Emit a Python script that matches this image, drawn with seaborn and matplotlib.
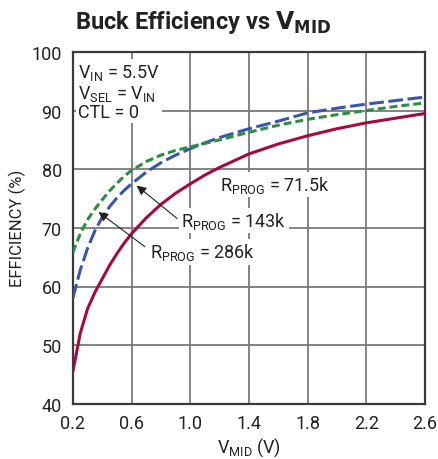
import matplotlib
matplotlib.use("Agg")
import matplotlib.pyplot as plt
import seaborn as sns
import pandas as pd

# ---- data ----
vmid = [0.2, 0.25, 0.3, 0.35, 0.4, 0.45, 0.5, 0.55, 0.6, 0.7, 0.8, 0.9, 1.0, 1.1, 1.2,
        1.4, 1.6, 1.8, 2.0, 2.2, 2.4, 2.6]
eff_71k5 = [45.5, 52.0, 56.2, 59.0, 61.3, 63.6, 65.6, 67.4, 69.0, 71.7, 74.0, 75.9, 77.5, 79.0, 80.3,
            82.6, 84.3, 85.7, 86.9, 87.9, 88.7, 89.5]
eff_143k = [58.0, 62.8, 66.5, 69.5, 71.8, 73.6, 75.1, 76.4, 77.5, 79.5, 81.1, 82.4, 83.5, 84.5, 85.4,
            86.9, 88.2, 89.6, 90.4, 91.1, 91.7, 92.3]
eff_286k = [65.8, 69.0, 71.4, 73.2, 74.8, 76.3, 77.6, 78.8, 79.8, 81.3, 82.4, 83.2, 83.8, 84.4, 85.0,
            86.3, 87.5, 88.5, 89.3, 90.0, 90.7, 91.3]
series_names = ["71.5k", "143k", "286k"]
x_ticks = [0.2, 0.6, 1.0, 1.4, 1.8, 2.2, 2.6]
y_ticks = [40, 50, 60, 70, 80, 90, 100]

sns.set_theme(style="white")
FONT = ["Liberation Sans Narrow", "Roboto", "Liberation Sans", "DejaVu Sans"]
plt.rcParams["font.family"] = FONT
plt.rcParams["mathtext.default"] = "regular"

df = pd.DataFrame({
    "vmid": vmid * 3,
    "eff": eff_71k5 + eff_143k + eff_286k,
    "rprog": [series_names[0]] * len(vmid) + [series_names[1]] * len(vmid) + [series_names[2]] * len(vmid),
})

palette = {"71.5k": "#A50A3C", "143k": "#3A56AB", "286k": "#2E8C45"}
dashes = {"71.5k": "", "143k": (4.8, 1.5), "286k": (2.6, 1.3)}

fig = plt.figure(figsize=(4.39, 4.60), dpi=100)
ax = fig.add_axes([0.166, 0.12, 0.802, 0.765])

sns.lineplot(data=df, x="vmid", y="eff", hue="rprog", style="rprog",
             palette=palette, dashes=dashes, linewidth=2.2, legend=False, ax=ax,
             zorder=3)

ax.set_xlim(0.2, 2.6)
ax.set_ylim(40, 100)
ax.set_xticks(x_ticks)
ax.set_xticklabels([f"{v:.1f}" for v in x_ticks])
ax.set_yticks(y_ticks)
ax.set_yticklabels([str(v) for v in y_ticks])
ax.tick_params(axis="x", labelsize=13, length=0, pad=7, colors="#222222")
ax.tick_params(axis="y", labelsize=13, length=0, pad=8, colors="#222222")
ax.grid(True, color="#7a7a7a", linewidth=1.3)
ax.set_axisbelow(True)
for s in ax.spines.values():
    s.set_color("#3a3a3a")
    s.set_linewidth(1.6)

ax.set_xlabel(r"$V_{MID}$ (V)", fontsize=13, color="#222222", labelpad=3)
ax.set_ylabel("EFFICIENCY (%)", fontsize=12, color="#222222", labelpad=4)

fig.text(0.17, 0.952, r"Buck Efficiency vs $\mathbf{V_{MID}}$", fontsize=17,
         fontweight="bold", color="#222222", ha="left", va="center")

bbox = dict(facecolor="white", edgecolor="none", pad=1.5)
ax.text(0.235, 98.3, "$V_{IN}$ = 5.5V\n$V_{SEL}$ = $V_{IN}$\nCTL = 0", fontsize=13,
        color="#222222", ha="left", va="top", linespacing=1.05, bbox=bbox, zorder=5)

ax.text(1.20, 77.4, "$R_{PROG}$ = 71.5k", fontsize=13, color="#222222",
        ha="left", va="center", bbox=bbox, zorder=5)
ax.text(0.94, 71.2, "$R_{PROG}$ = 143k", fontsize=13, color="#222222",
        ha="left", va="center", bbox=bbox, zorder=5)
ax.text(0.725, 65.9, "$R_{PROG}$ = 286k", fontsize=13, color="#222222",
        ha="left", va="center", bbox=bbox, zorder=5)

arrowprops = dict(arrowstyle="-|>", color="#222222", lw=0.8, mutation_scale=14,
                  shrinkA=0, shrinkB=0)
ax.annotate("", xy=(0.635, 77.2), xytext=(0.91, 71.6), arrowprops=arrowprops, zorder=6)
ax.annotate("", xy=(0.375, 72.7), xytext=(0.69, 66.8), arrowprops=arrowprops, zorder=6)

fig.savefig("out.png", dpi=100)
